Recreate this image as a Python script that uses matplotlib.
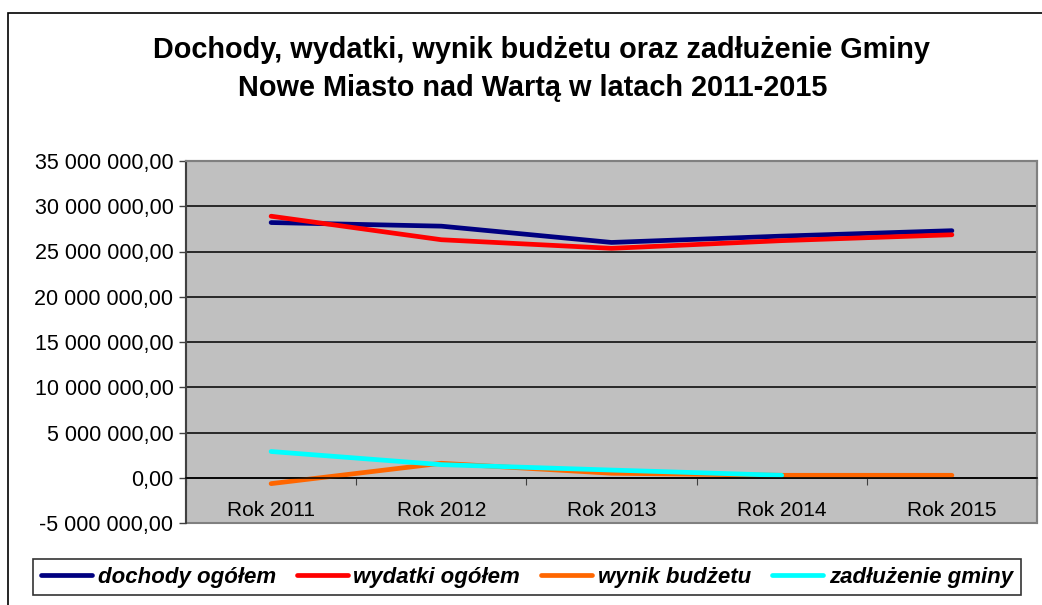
import numpy as np
import matplotlib
matplotlib.use("Agg")
from matplotlib import pyplot as plt
from matplotlib.patches import Rectangle
from matplotlib.ticker import FuncFormatter, FixedLocator

plt.rcParams['font.family'] = ['Liberation Sans', 'DejaVu Sans']

# dane
lata = ["Rok 2011", "Rok 2012", "Rok 2013", "Rok 2014", "Rok 2015"]
dochody = [28.2e6, 27.8e6, 26.0e6, 26.7e6, 27.3e6]
wydatki = [28.9e6, 26.3e6, 25.35e6, 26.2e6, 26.85e6]
wynik = [-0.65e6, 1.6e6, 0.5e6, 0.27e6, 0.27e6]
zadluzenie = [2.9e6, 1.45e6, 0.85e6, 0.27e6, np.nan]

nazwy = ["dochody ogółem", "wydatki ogółem", "wynik budżetu", "zadłużenie gminy"]
kolory = ["#000080", "#FF0000", "#FF6600", "#00FFFF"]

W, H = 1042, 605
fig = plt.figure(figsize=(W / 100, H / 100), dpi=100)
fig.patch.set_facecolor("white")

# ramka wykresu (ucięta z prawej i z dołu)
fig.patches.append(Rectangle((8 / W, -0.1), 1.2, 1 - 13 / H + 0.1, transform=fig.transFigure,
                             fill=False, edgecolor="black", linewidth=1.2))

ax = fig.add_axes([186 / W, (H - 523) / H, (1037 - 186) / W, (523 - 161) / H])
ax.set_facecolor("#C0C0C0")

x = np.arange(len(lata))
for serie, kol in zip([dochody, wydatki, wynik, zadluzenie], kolory):
    ax.plot(x, serie, color=kol, linewidth=3.4, solid_capstyle="round", solid_joinstyle="round")

ax.set_xlim(-0.5, len(lata) - 0.5)
ax.set_ylim(-5e6, 35e6)

ax.yaxis.set_major_locator(FixedLocator(np.arange(-5e6, 35.1e6, 5e6)))


def pln(v, pos):
    s = f"{abs(v):,.2f}".replace(",", " ").replace(".", ",")
    return ("-" if v < 0 else "") + s


ax.yaxis.set_major_formatter(FuncFormatter(pln))
ax.tick_params(axis="y", labelsize=15.5, length=5, width=1, color="#404040", pad=4)
for g in np.arange(0, 35e6, 5e6):
    ax.axhline(g, color="black", linewidth=1.1, zorder=0.5)

# oś kategorii na poziomie zera
ax.spines["bottom"].set_position(("data", 0))
ax.spines["bottom"].set_color("black")
ax.spines["bottom"].set_linewidth(1.1)
ax.set_xticks(np.arange(-0.5, len(lata)), minor=False)
ax.set_xticklabels([])
ax.set_xticks(x, minor=True)
ax.set_xticklabels(lata, minor=True)
ax.tick_params(axis="x", which="major", length=5, direction="out", color="#404040")
ax.tick_params(axis="x", which="minor", length=0, labelsize=15, pad=17)

for s in ["top", "right"]:
    ax.spines[s].set_color("#808080")
    ax.spines[s].set_linewidth(1.5)
ax.spines["left"].set_color("#404040")
ax.spines["left"].set_linewidth(1.5)
# dolna krawędź obszaru wykresu
ax.add_patch(Rectangle((0, 0), 1, 1, transform=ax.transAxes, fill=False,
                       edgecolor="#808080", linewidth=1.5, zorder=0.6, clip_on=False))

fig.text(541 / W, 1 - 50 / H, "Dochody, wydatki, wynik budżetu oraz zadłużenie Gminy",
         ha="center", va="center", fontsize=20.8, fontweight="bold")
fig.text(533 / W, 1 - 88 / H, "Nowe Miasto nad Wartą w latach 2011-2015",
         ha="center", va="center", fontsize=20.8, fontweight="bold")

leg = fig.legend(ax.get_lines(), nazwy, loc="center", bbox_to_anchor=(527 / W, 1 - 577 / H),
                 ncol=4, frameon=True, fancybox=False, handlelength=2.3, handletextpad=0.25,
                 columnspacing=0.95, borderpad=0.35,
                 prop={"size": 16, "weight": "bold", "style": "italic"})
leg.get_frame().set_edgecolor("black")
leg.get_frame().set_linewidth(1.2)

fig.savefig("out.png", dpi=100)
